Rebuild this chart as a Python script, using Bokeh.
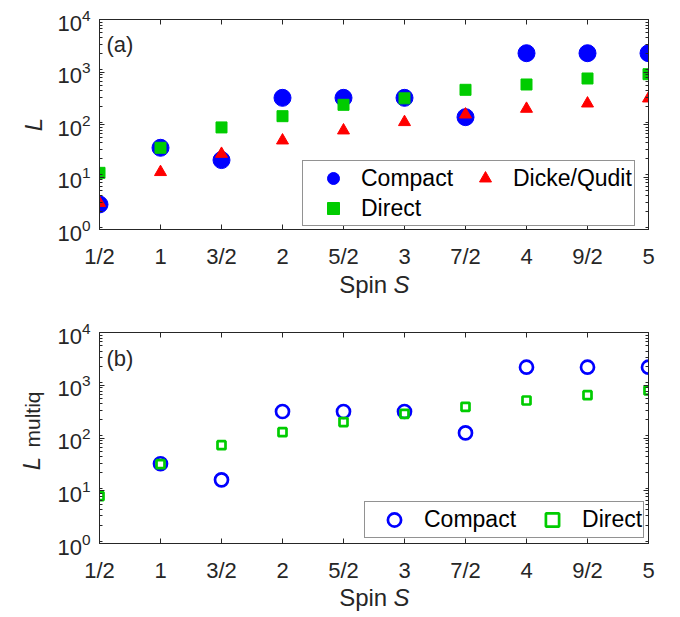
import math
from bokeh.plotting import figure
from bokeh.models import (Range1d, FixedTicker, LogTicker, LinearAxis, LogAxis,
                          Legend, LegendItem, Label, CustomJSTickFormatter)
from bokeh.layouts import column
from bokeh.embed import file_html
from bokeh.resources import INLINE

# ---------------- data ----------------
spin = [0.5, 1.0, 1.5, 2.0, 2.5, 3.0, 3.5, 4.0, 4.5, 5.0]
spin_labels = ["1/2", "1", "3/2", "2", "5/2", "3", "7/2", "4", "9/2", "5"]

# panel (a): L
compact_L = [3.0, 36, 21, 322, 322, 322, 138, 2280, 2280, 2280]
direct_L = [12, 36, 88, 144, 237, 315, 458, 578, 752, 908]
dicke_L = [3.2, 12.4, 27.6, 49.6, 77, 111, 155, 199, 251, 313]

# panel (b): L_multiq
compact_multiq = [float("nan"), 32.5, 16.1, 318, 318, 318, 125, 2200, 2200, 2200]
direct_multiq = [7.9, 31.9, 73, 129, 200, 287, 390, 514, 648, 796]

# ---------------- style ----------------
FONT = "Liberation Sans"
AX = "#262626"
BLUE = "#0000FF"
GREEN = "#00CC00"
RED = "#FF0000"
TICK_FS = "22px"
LAB_FS = "24px"
LEG_FS = "23px"


def style_axis(ax, minor=True, labels=True):
    ax.axis_line_color = AX
    ax.axis_line_width = 1
    ax.major_tick_line_color = AX
    ax.minor_tick_line_color = AX if minor else None
    ax.major_tick_in = 5
    ax.major_tick_out = 0
    ax.minor_tick_in = 3
    ax.minor_tick_out = 0
    ax.major_label_text_font = FONT
    ax.major_label_text_color = AX
    if labels:
        ax.major_label_text_font_size = TICK_FS
    else:
        ax.formatter = CustomJSTickFormatter(code="return ''")
        ax.major_label_text_font_size = "2px"
        ax.major_label_standoff = 0


def side_label(p, place, txt, x, y, fs=LAB_FS, style="normal", angle=0.0,
               align="center", baseline="middle"):
    p.add_layout(Label(x=x, y=y, x_units="screen", y_units="screen", text=txt,
                       angle=angle, text_align=align, text_baseline=baseline,
                       text_font=FONT, text_font_size=fs, text_color=AX,
                       text_font_style=style), place)


def make_panel(height, top, bottom, tag):
    p = figure(width=680, height=height,
               x_range=Range1d(0.5, 5), y_range=Range1d(1, 1e4),
               y_axis_type="log", output_backend="svg", toolbar_location=None,
               min_border_left=99, min_border_right=32,
               min_border_top=top, min_border_bottom=bottom)
    p.xgrid.visible = False
    p.ygrid.visible = False
    p.outline_line_color = None
    p.background_fill_color = "white"

    xax = p.xaxis[0]
    xax.ticker = FixedTicker(ticks=spin)
    xax.major_label_overrides = {s: l for s, l in zip(spin, spin_labels)}
    style_axis(xax, minor=False)
    xax.major_label_standoff = 14

    yax = p.yaxis[0]
    yax.ticker = LogTicker(num_minor_ticks=9)
    style_axis(yax)
    yax.major_label_standoff = 9

    top_ax = LinearAxis(ticker=FixedTicker(ticks=spin))
    style_axis(top_ax, minor=False, labels=False)
    p.add_layout(top_ax, "above")

    right_ax = LogAxis(ticker=LogTicker(num_minor_ticks=9))
    style_axis(right_ax, labels=False)
    p.add_layout(right_ax, "right")

    p.add_layout(Label(x=7, y=185, x_units="screen", y_units="screen", text=tag,
                       text_align="left", text_baseline="middle",
                       text_font=FONT, text_font_size="22px", text_color=AX))
    return p


# ---------------- panel (a) ----------------
p1 = make_panel(300, 19, 71, "(a)")
side_label(p1, "below", "Spin", 287.7, 14, align="right", baseline="alphabetic")
side_label(p1, "right", "S", -255, -55.2, style="italic", align="left",
           baseline="alphabetic")
side_label(p1, "above", "L", -66.5, -105, style="italic", angle=math.pi / 2)
r_c = p1.scatter(spin, compact_L, marker="circle", size=17,
                 fill_color=BLUE, line_color=BLUE)
r_d = p1.scatter(spin, direct_L, marker="square", size=11,
                 fill_color=GREEN, line_color=GREEN)
r_q = p1.scatter(spin, dicke_L, marker="triangle", size=12,
                 fill_color=RED, line_color=RED)
leg1 = Legend(items=[LegendItem(label="Compact", renderers=[r_c]),
                     LegendItem(label="Direct", renderers=[r_d]),
                     LegendItem(label="Dicke/Qudit", renderers=[r_q])],
              location=(203, 3), orientation="vertical", ncols=2,
              glyph_width=56, glyph_height=30, spacing=0, padding=2,
              label_standoff=0, label_width=96, margin=0,
              label_text_font=FONT, label_text_font_size=LEG_FS, label_text_color="black",
              border_line_color=AX, border_line_width=1,
              background_fill_color="white", background_fill_alpha=1)
p1.add_layout(leg1)

# ---------------- panel (b) ----------------
p2 = make_panel(317, 32, 74, "(b)")
side_label(p2, "below", "Spin", 287.7, 15, align="right", baseline="alphabetic")
side_label(p2, "right", "S", -255, -54.2, style="italic", align="left",
           baseline="alphabetic")
side_label(p2, "above", "L", -68, -131, style="italic", angle=math.pi / 2)
side_label(p2, "left", "multiq", 1, 124, fs="21px", angle=math.pi / 2)
r_c2 = p2.scatter(spin, compact_multiq, marker="circle", size=13,
                  fill_color=None, line_color=BLUE, line_width=2.7)
r_d2 = p2.scatter(spin, direct_multiq, marker="square", size=8,
                  fill_color=None, line_color=GREEN, line_width=2.7)
leg2 = Legend(items=[LegendItem(label="Compact", renderers=[r_c2]),
                     LegendItem(label="Direct", renderers=[r_d2])],
              location=(265, 5), orientation="horizontal",
              glyph_width=56, glyph_height=33, spacing=8, padding=1,
              label_standoff=2, margin=0,
              label_text_font=FONT, label_text_font_size=LEG_FS, label_text_color="black",
              border_line_color=AX, border_line_width=1,
              background_fill_color="white", background_fill_alpha=1)
p2.add_layout(leg2)

layout = column(p1, p2, spacing=0)
open("out.html", "w").write(file_html(layout, INLINE))
